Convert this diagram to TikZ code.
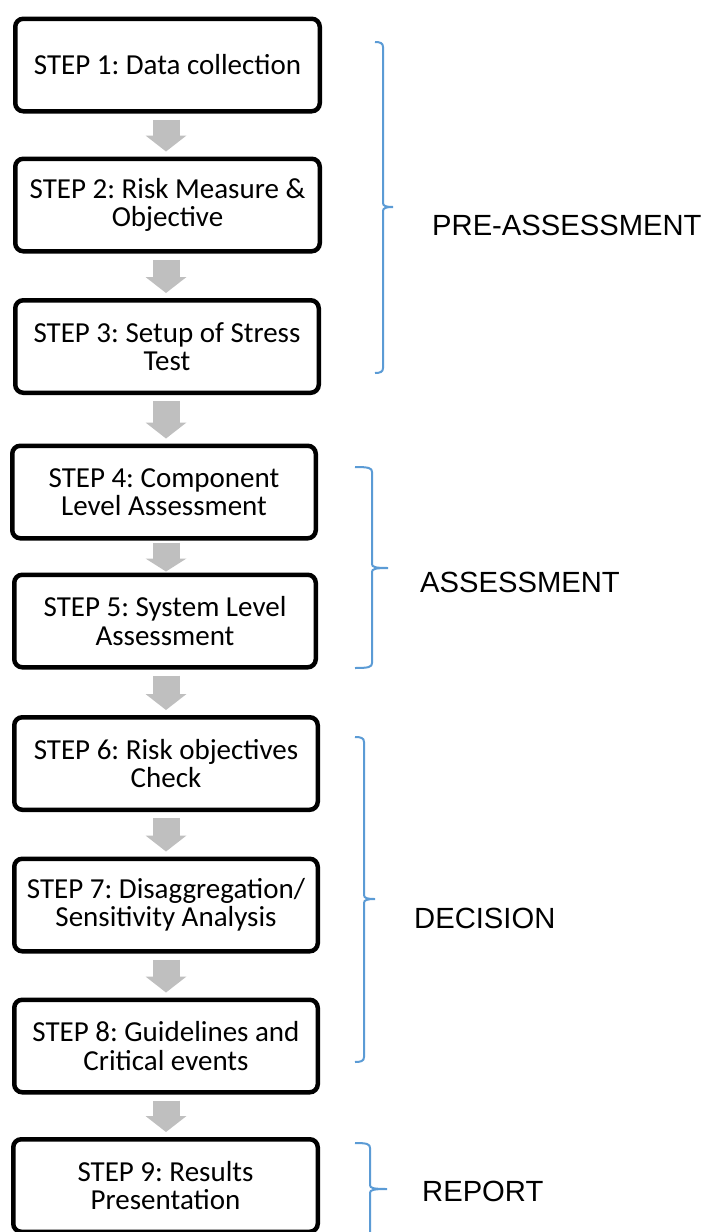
\documentclass[tikz,border=0pt]{standalone}
\usepackage{fontspec}
\setmainfont{Carlito}
\newfontfamily\labelfont{Liberation Sans}
\usetikzlibrary{arrows.meta}
\definecolor{bracecol}{HTML}{5B9BD5}
\definecolor{arrowgray}{HTML}{BFBFBF}
% xend, xspine, xtip, ytop, ytip, ybot
\newcommand\sidebrace[6]{%
  \draw[bracestyle] (#1,#4) .. controls (#2-3,#4) and (#2,#4+1) .. (#2,#4+5)
    -- (#2,#5-4) .. controls (#2,#5-1) and (#2+3,#5) .. (#3,#5)
    .. controls (#2+3,#5) and (#2,#5+1) .. (#2,#5+4)
    -- (#2,#6-5) .. controls (#2,#6-1) and (#2-3,#6) .. (#1,#6);}
\tikzset{
  stepbox/.style={draw=black, line width=4.5pt, rounded corners=8pt, fill=white,
    inner sep=0pt, align=center, minimum height=92.5pt,
    font=\fontsize{29}{28.5}\selectfont\frenchspacing},
  flowarrow/.style={draw=arrowgray, line width=27pt,
    -{Triangle[width=41pt,length=16pt,line width=0pt]},
    shorten <=6pt, shorten >=5pt},
  bracestyle/.style={draw=bracecol, line width=2pt},
  phase/.style={anchor=west, inner sep=0pt, font=\labelfont\fontsize{29.2}{34}\selectfont}
}
\begin{document}
\begin{tikzpicture}[x=1pt,y=-1pt]
\useasboundingbox (0,0) rectangle (702,1232);
\clip (0,0) rectangle (702,1232);
\coordinate (ax) at (166,0);
\node[stepbox, minimum width=304.5pt] (s1) at (167.5,65) {STEP 1: Data collection};
\node[stepbox, minimum width=304.5pt] (s2) at (167.5,205) {STEP 2: Risk Measure \&\\Objective};
\node[stepbox, minimum width=303.5pt] (s3) at (167,346.5) {STEP 3: Setup of Stress\\Test};
\node[stepbox, minimum width=303.5pt] (s4) at (164,492) {STEP 4: Component\\Level Assessment};
\node[stepbox, minimum width=301.5pt] (s5) at (165,621) {STEP 5: System Level\\Assessment};
\node[stepbox, minimum width=303.5pt] (s6) at (166,763.5) {STEP 6: Risk objectives\\Check};
\node[stepbox, minimum width=303.5pt] (s7) at (166,905) {STEP 7: Disaggregation/\\Sensitivity Analysis};
\node[stepbox, minimum width=303.5pt] (s8) at (166,1046) {STEP 8: Guidelines and\\Critical events};
\node[stepbox, minimum width=304.5pt] (s9) at (165.5,1185.5) {STEP 9: Results\\Presentation};

\draw[flowarrow] (s1.south -| ax) -- (s2.north -| ax);
\draw[flowarrow] (s2.south -| ax) -- (s3.north -| ax);
\draw[flowarrow] (s3.south -| ax) -- (s4.north -| ax);
\draw[flowarrow, shorten <=2pt, shorten >=1pt, -{Triangle[width=41pt,length=13pt,line width=0pt]}] (s4.south -| ax) -- (s5.north -| ax);
\draw[flowarrow] (s5.south -| ax) -- (s6.north -| ax);
\draw[flowarrow] (s6.south -| ax) -- (s7.north -| ax);
\draw[flowarrow] (s7.south -| ax) -- (s8.north -| ax);
\draw[flowarrow] (s8.south -| ax) -- (s9.north -| ax);

\sidebrace{375}{383}{393}{42}{207}{373}
\sidebrace{355}{372}{388}{467}{568}{668}
\sidebrace{355}{364}{375}{737}{899}{1062}
\sidebrace{355}{370}{387}{1143}{1189}{1245}

\node[phase] (pre) at (432,225) {PRE-ASSESSMENT};
\node[phase] (ass) at (420,582) {ASSESSMENT};
\node[phase] (dec) at (414,918) {DECISION};
\node[phase] (rep) at (422,1191) {REPORT};
\end{tikzpicture}
\end{document}
